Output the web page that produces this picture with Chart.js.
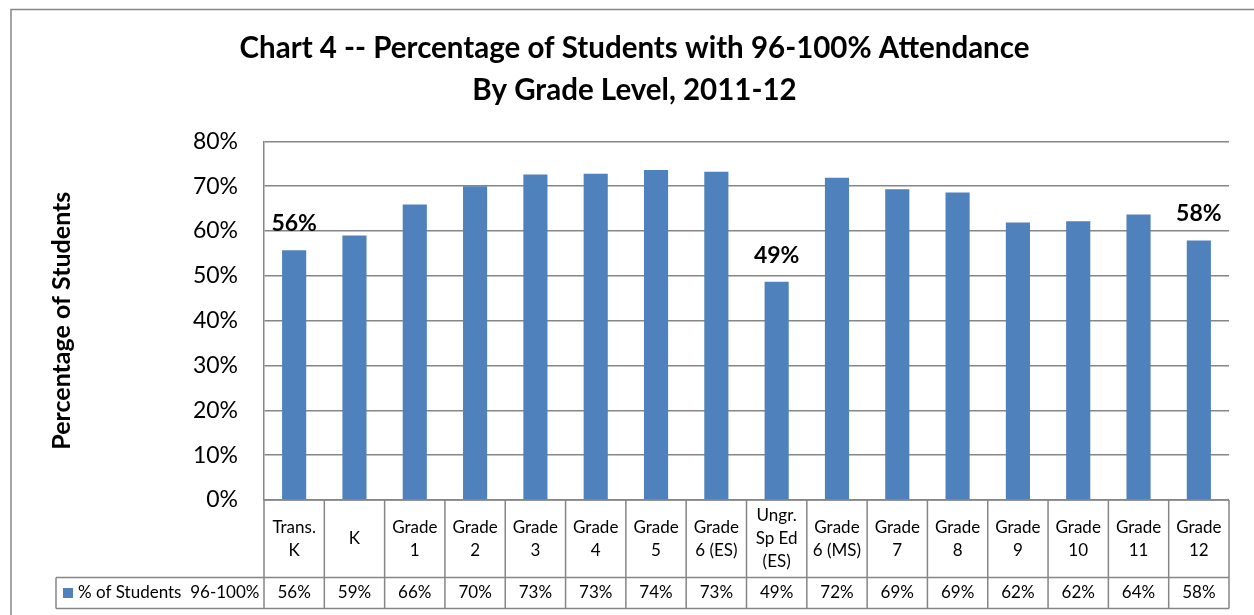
<!DOCTYPE html>
<html><head><meta charset="utf-8">
<script src="https://cdn.jsdelivr.net/npm/chart.js@4"></script>
<style>html,body{margin:0;padding:0;background:#fff;overflow:hidden}canvas{display:block}</style>
</head><body>
<canvas id="c" width="1254" height="615"></canvas>
<script>
// ---- data ----
const categories = [
  ['Trans.', 'K'], ['K'], ['Grade', '1'], ['Grade', '2'], ['Grade', '3'], ['Grade', '4'],
  ['Grade', '5'], ['Grade', '6 (ES)'], ['Ungr.', 'Sp Ed', '(ES)'], ['Grade', '6 (MS)'],
  ['Grade', '7'], ['Grade', '8'], ['Grade', '9'], ['Grade', '10'], ['Grade', '11'], ['Grade', '12']
];
const values = [55.7, 59.0, 65.9, 70.0, 72.6, 72.8, 73.6, 73.2, 48.7, 71.9, 69.3, 68.6, 61.9, 62.2, 63.7, 57.9];
const seriesName = '% of Students  96-100%';
const labeledIndices = [0, 8, 15];
const yTickValues = [0, 10, 20, 30, 40, 50, 60, 70, 80];
const titleLines = ['Chart 4 -- Percentage of Students with 96-100% Attendance', 'By Grade Level, 2011-12'];
const yAxisTitle = 'Percentage of Students';

// ---- style ----
const BAR = '#4F81BD';
const GRAY = '#868686';
const FONT = 'Lato, "Open Sans", sans-serif';
const pct = v => Math.round(v) + '%';

const decorPlugin = {
  id: 'decor',
  beforeDraw(chart) {
    const ctx = chart.ctx;
    ctx.save();
    ctx.strokeStyle = GRAY;
    ctx.lineWidth = 1.5;
    ctx.beginPath();
    ctx.moveTo(11, 700); ctx.lineTo(11, 9.5); ctx.lineTo(1300, 9.5);
    ctx.stroke();
    ctx.restore();
  },
  afterDraw(chart) {
    const ctx = chart.ctx;
    const xs = chart.scales.x;
    const area = chart.chartArea;
    const n = categories.length;
    const cw = (area.right - area.left) / n;
    const top = area.bottom;
    const midY = 577.5;
    const botY = 608.5;
    const legendLeft = 56;
    ctx.save();
    ctx.strokeStyle = GRAY;
    ctx.lineWidth = 1.5;
    ctx.beginPath();
    ctx.moveTo(area.left, top); ctx.lineTo(area.right, top);
    ctx.moveTo(legendLeft, midY); ctx.lineTo(area.right, midY);
    ctx.moveTo(legendLeft, botY); ctx.lineTo(area.right, botY);
    ctx.moveTo(legendLeft, midY); ctx.lineTo(legendLeft, botY);
    for (let i = 0; i <= n; i++) {
      const x = area.left + i * cw;
      ctx.moveTo(x, top); ctx.lineTo(x, botY);
    }
    ctx.stroke();

    // category labels
    ctx.fillStyle = '#000';
    ctx.font = '17px ' + FONT;
    ctx.textAlign = 'center';
    ctx.textBaseline = 'middle';
    const lh = 23;
    const rowMid = (top + midY) / 2;
    categories.forEach((lines, i) => {
      const cx = xs.getPixelForValue(i);
      const y0 = rowMid - (lines.length - 1) * lh / 2;
      lines.forEach((t, k) => ctx.fillText(t, cx, y0 + k * lh));
    });
    // values row
    const valMid = (midY + botY) / 2;
    values.forEach((v, i) => {
      ctx.fillText(pct(v), xs.getPixelForValue(i), valMid);
    });
    // legend key
    ctx.fillStyle = BAR;
    ctx.fillRect(63, valMid - 5, 10, 10);
    ctx.fillStyle = '#000';
    ctx.textAlign = 'left';
    ctx.fillText(seriesName, 78, valMid);

    // data labels
    const meta = chart.getDatasetMeta(0);
    ctx.font = 'bold 23px ' + FONT;
    ctx.textAlign = 'center';
    ctx.textBaseline = 'alphabetic';
    labeledIndices.forEach(i => {
      const bar = meta.data[i];
      ctx.fillText(pct(values[i]), bar.x, bar.y - 19);
    });
    ctx.restore();
  }
};

new Chart(document.getElementById('c'), {
  type: 'bar',
  data: {
    labels: categories.map(c => c.join(' ')),
    datasets: [{
      label: seriesName,
      data: values,
      backgroundColor: BAR,
      borderWidth: 0,
      barPercentage: 0.4,
      categoryPercentage: 1.0
    }]
  },
  options: {
    responsive: false,
    animation: false,
    devicePixelRatio: 1,
    events: [],
    layout: { padding: { left: 40, right: 25, top: 0, bottom: 115 } },
    plugins: {
      legend: { display: false },
      tooltip: { enabled: false },
      title: {
        display: true,
        text: titleLines,
        color: '#000',
        font: { family: FONT, size: 29.5, weight: 'bold', lineHeight: 1.43 },
        padding: { top: 27, bottom: 30 }
      }
    },
    scales: {
      x: { display: false },
      y: {
        min: 0, max: 80,
        afterBuildTicks: s => { s.ticks = yTickValues.map(v => ({ value: v })); },
        afterFit: s => { s.width = 224; },
        ticks: { callback: v => v + '%', color: '#000', font: { family: FONT, size: 23 }, padding: 26 },
        grid: { color: GRAY, lineWidth: 1.5, drawTicks: false },
        border: { display: true, color: GRAY, width: 1.5 },
        title: {
          display: true, text: yAxisTitle, color: '#000',
          font: { family: FONT, size: 25, weight: 'bold' },
          padding: { top: 7, bottom: 0 }
        }
      }
    }
  },
  plugins: [decorPlugin]
});
</script>
</body></html>
